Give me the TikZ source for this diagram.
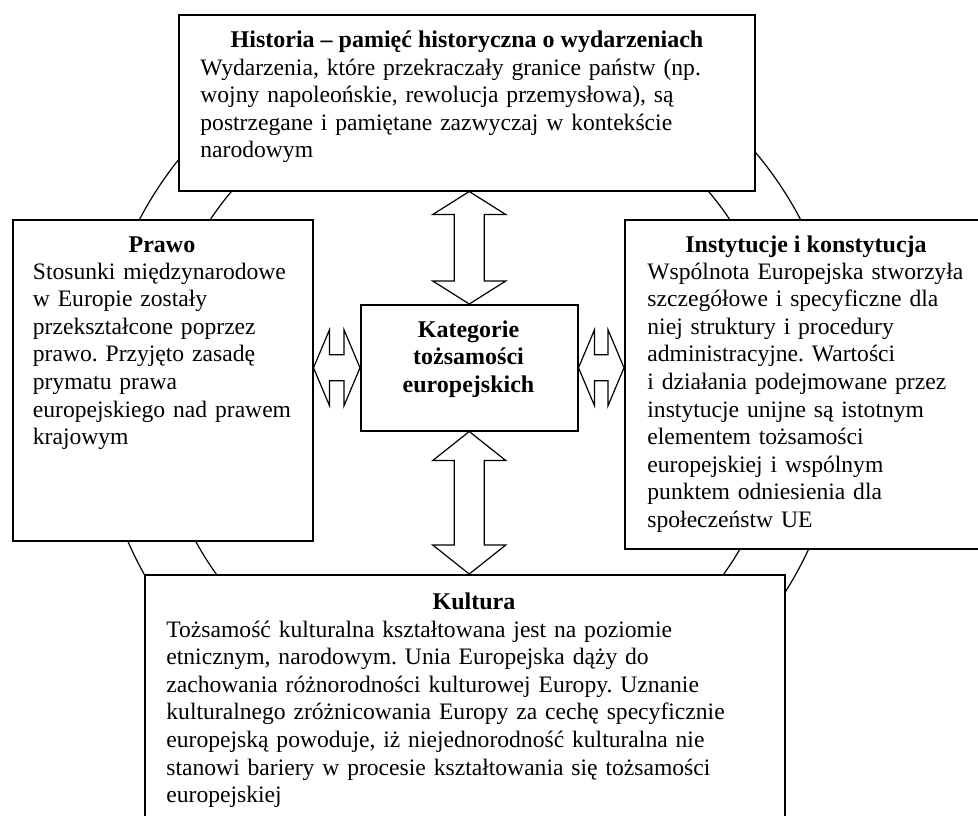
\documentclass[tikz,border=0pt]{standalone}
\usepackage{fontspec}
\setmainfont{Liberation Serif}
\usetikzlibrary{calc}
\frenchspacing

\newcommand{\boxfont}{\fontsize{12pt}{13.8pt}\selectfont}
\newcommand{\bodyfont}{\fontsize{11.8pt}{13.8pt}\selectfont}
% block arrows: #1 first tip, #2 second tip, #3 head length
\newcommand{\dblarrowv}[3]{%
  \draw[blockarrow] (#1) -- ++(36.5,#3) -- ++(-21.5,0) -- ($(#2)+(15,-#3)$) -- ++(21.5,0) -- (#2)
    -- ++(-36.5,-#3) -- ++(21.5,0) -- ($(#1)+(-15,#3)$) -- ++(-21.5,0) -- cycle;}
\newcommand{\dblarrowh}[3]{%
  \draw[blockarrow] (#1) -- ++(#3,-38) -- ++(0,25) -- ($(#2)+(-#3,-13)$) -- ++(0,-25) -- (#2)
    -- ++(-#3,38) -- ++(0,-25) -- ($(#1)+(#3,13)$) -- ++(0,25) -- cycle;}

\begin{document}
\begin{tikzpicture}[x=0.5pt, y=-0.5pt,
    every node/.append style={font=\boxfont},
    box/.style={draw, fill=white, line width=0.75pt, inner sep=0pt, anchor=north west},
    title/.style={font=\boxfont\bfseries, anchor=base, inner sep=0pt},
    body/.style={font=\bodyfont, align=left, text width=320pt, anchor=base west, inner sep=0pt},
    blockarrow/.style={draw, fill=white, line width=0.6pt, line join=miter},
    ring/.style={line width=0.6pt}]
  \useasboundingbox (0,0) rectangle (978,815);

  % ring behind the boxes
  \coordinate (mid) at (470,392.5);
  \draw[ring] (mid) circle[radius=186.5pt];
  \draw[ring] (mid) circle[radius=156pt];

  % boxes
  \node[box, minimum width=288pt, minimum height=88pt] (historia) at (178,14) {};
  \node[box, minimum width=150pt, minimum height=160.5pt] (prawo) at (12,219) {};
  \node[box, minimum width=177pt, minimum height=164.5pt] (inst) at (624,219) {};
  \node[box, minimum width=108.5pt, minimum height=63pt] (kat) at (360,304) {};
  \node[box, minimum width=320pt, minimum height=150pt] (kultura) at (144,574) {};

  % arrows
  \coordinate (histS) at (kat.north |- historia.south);
  \coordinate (kultN) at (kat.south |- kultura.north);
  \coordinate (prawoE) at (prawo.east |- kat.west);
  \coordinate (instW) at (inst.west |- kat.east);
  \dblarrowv{histS}{kat.north}{23}
  \dblarrowv{kat.south}{kultN}{29}
  \dblarrowh{prawoE}{kat.west}{16}
  \dblarrowh{kat.east}{instW}{16}

  % texts
  \node[title] (histtitle) at (467,47) {Historia -- pamięć historyczna o wydarzeniach};
  \node[body] (histtext) at (200,75) {Wydarzenia, które przekraczały granice państw (np.\\
    wojny napoleońskie, rewolucja przemysłowa), są\\
    postrzegane i pamiętane zazwyczaj w kontekście\\
    narodowym};

  \node[title] (prawotitle) at (162,252) {Prawo};
  \node[body] (prawotext) at (32.5,279) {Stosunki międzynarodowe\\
    w Europie zostały\\
    przekształcone poprzez\\
    prawo. Przyjęto zasadę\\
    prymatu prawa\\
    europejskiego nad prawem\\
    krajowym};

  \node[title] (insttitle) at (806,252) {Instytucje i konstytucja};
  \node[body] (insttext) at (647,279) {Wspólnota Europejska stworzyła\\
    szczegółowe i specyficzne dla\\
    niej struktury i procedury\\
    administracyjne. Wartości\\
    i działania podejmowane przez\\
    instytucje unijne są istotnym\\
    elementem tożsamości\\
    europejskiej i wspólnym\\
    punktem odniesienia dla\\
    społeczeństw UE};

  \node[title, align=center, text width=100pt] (kattext) at (468.5,337) {Kategorie\\ tożsamości\\ europejskich};

  \node[title] (kulttitle) at (474,609) {Kultura};
  \node[body] (kulttext) at (166,637) {Tożsamość kulturalna kształtowana jest na poziomie\\
    etnicznym, narodowym. Unia Europejska dąży do\\
    zachowania różnorodności kulturowej Europy. Uznanie\\
    kulturalnego zróżnicowania Europy za cechę specyficznie\\
    europejską powoduje, iż niejednorodność kulturalna nie\\
    stanowi bariery w procesie kształtowania się tożsamości\\
    europejskiej};
\end{tikzpicture}
\end{document}
